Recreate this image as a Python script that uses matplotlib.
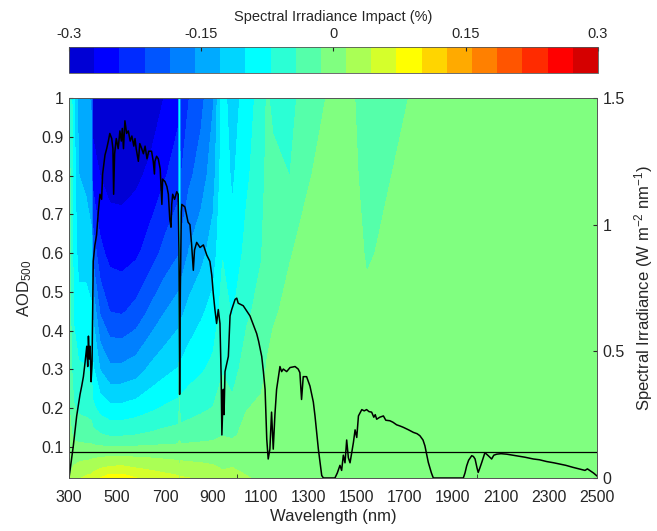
import numpy as np
import matplotlib
matplotlib.use("Agg")
import matplotlib.pyplot as plt
from matplotlib.colors import ListedColormap

plt.rcParams['font.family'] = ['Liberation Sans', 'DejaVu Sans']
plt.rcParams['mathtext.fontset'] = 'custom'
plt.rcParams['mathtext.rm'] = 'Liberation Sans'
plt.rcParams['mathtext.it'] = 'Liberation Sans'

# AOD levels (rows) and wavelengths (columns) of the impact table
aod_rows = [0.02, 0.05, 0.088, 0.13, 0.2, 0.3, 0.45, 0.6, 0.8, 1.0]
impact_wl = [300, 310, 320, 340, 370, 393, 400, 430, 470, 520, 580, 640, 700,
             755, 760, 765, 800, 850, 900, 940, 980, 1040, 1100, 1125, 1150,
             1220, 1300, 1380, 1490, 1540, 1640, 1740, 1850, 2500]
# spectral irradiance impact (%), one list per wavelength, bottom -> top AOD
impact_cols = [
    [0.010, 0.005, 0, -0.005, -0.012, -0.018, -0.022, -0.026, -0.030, -0.032],
    [0.020, 0.010, 0, -0.012, -0.025, -0.040, -0.050, -0.055, -0.060, -0.065],
    [0.030, 0.015, 0, -0.020, -0.040, -0.060, -0.075, -0.082, -0.088, -0.092],
    [0.040, 0.020, 0, -0.025, -0.048, -0.068, -0.090, -0.110, -0.128, -0.140],
    [0.048, 0.024, 0, -0.028, -0.050, -0.070, -0.090, -0.110, -0.135, -0.150],
    [0.052, 0.026, 0, -0.030, -0.054, -0.074, -0.096, -0.120, -0.145, -0.160],
    [0.058, 0.029, 0, -0.034, -0.065, -0.095, -0.135, -0.195, -0.255, -0.290],
    [0.072, 0.036, 0, -0.040, -0.082, -0.130, -0.190, -0.235, -0.272, -0.300],
    [0.085, 0.043, 0, -0.045, -0.093, -0.150, -0.215, -0.252, -0.282, -0.310],
    [0.085, 0.045, 0, -0.045, -0.093, -0.150, -0.218, -0.255, -0.282, -0.310],
    [0.072, 0.038, 0, -0.042, -0.087, -0.142, -0.205, -0.248, -0.277, -0.303],
    [0.062, 0.033, 0, -0.038, -0.077, -0.122, -0.180, -0.228, -0.265, -0.288],
    [0.054, 0.028, 0, -0.033, -0.068, -0.108, -0.158, -0.205, -0.245, -0.270],
    [0.048, 0.024, 0, -0.030, -0.062, -0.098, -0.142, -0.188, -0.228, -0.252],
    [0.030, 0.015, 0, -0.020, -0.038, -0.055, -0.070, -0.080, -0.088, -0.095],
    [0.046, 0.023, 0, -0.029, -0.060, -0.094, -0.136, -0.178, -0.216, -0.240],
    [0.043, 0.021, 0, -0.027, -0.054, -0.084, -0.120, -0.155, -0.192, -0.215],
    [0.038, 0.019, 0, -0.024, -0.048, -0.075, -0.105, -0.138, -0.172, -0.195],
    [0.032, 0.016, 0, -0.021, -0.042, -0.064, -0.090, -0.115, -0.142, -0.160],
    [0.022, 0.011, 0, -0.015, -0.030, -0.045, -0.060, -0.073, -0.082, -0.088],
    [0.027, 0.013, 0, -0.018, -0.036, -0.055, -0.074, -0.090, -0.105, -0.116],
    [0.016, 0.008, 0, -0.007, -0.015, -0.029, -0.048, -0.063, -0.076, -0.085],
    [0.010, 0.005, 0, -0.005, -0.011, -0.020, -0.033, -0.045, -0.055, -0.060],
    [0.008, 0.004, 0, -0.004, -0.008, -0.013, -0.020, -0.028, -0.035, -0.040],
    [0.006, 0.003, 0, -0.003, -0.006, -0.010, -0.016, -0.025, -0.037, -0.048],
    [0.004, 0.002, 0, -0.002, -0.004, -0.007, -0.011, -0.015, -0.043, -0.050],
    [0.003, 0.001, 0, -0.001, -0.003, -0.005, -0.008, -0.010, -0.015, -0.030],
    [0.002, 0.001, 0, -0.001, -0.002, -0.004, -0.006, -0.008, -0.010, -0.012],
    [0.002, 0.001, 0, -0.001, -0.002, -0.004, -0.006, -0.008, -0.011, -0.014],
    [0.002, 0.001, 0, -0.002, -0.004, -0.007, -0.011, -0.016, -0.022, -0.028],
    [0.002, 0.001, 0, -0.001, -0.003, -0.005, -0.008, -0.011, -0.0145, -0.018],
    [0.001, 0.000, 0, -0.001, -0.002, -0.004, -0.006, -0.008, -0.010, -0.013],
    [0.001, 0.000, 0, -0.001, -0.002, -0.003, -0.005, -0.006, -0.008, -0.010],
    [0.001, 0.000, 0, -0.001, -0.001, -0.002, -0.003, -0.004, -0.005, -0.006],
]

# solar spectrum (W m-2 nm-1)
spec_wl = [300, 318, 332, 346, 353, 360, 367, 374, 378, 381, 385, 388, 392, 396,
           401, 408, 415, 422, 429, 436, 440, 450, 457, 464, 470, 478, 483, 486,
           490, 497, 505, 512, 518, 522, 527, 533, 540, 547, 555, 562, 570, 575,
           580, 589, 595, 603, 610, 617, 625, 632, 644, 651, 656, 658, 665, 672,
           680, 687, 690, 700, 708, 714, 720, 725, 728, 732, 740, 749, 755, 758,
           761, 764, 768, 770, 783, 796, 804, 811, 818, 823, 832, 846, 860, 874,
           887, 895, 901, 908, 915, 922, 929, 934, 937, 941, 943, 946, 950, 957,
           964, 971, 978, 992, 999, 1005, 1026, 1054, 1082, 1090, 1103, 1110,
           1117, 1124, 1130, 1137, 1144, 1151, 1158, 1165, 1179, 1186, 1193,
           1207, 1221, 1242, 1255, 1262, 1269, 1276, 1290, 1304, 1318, 1325,
           1339, 1353, 1360, 1408, 1418, 1429, 1436, 1443, 1450, 1457, 1464,
           1471, 1478, 1485, 1492, 1499, 1506, 1520, 1530, 1540, 1550, 1561,
           1570, 1576, 1582, 1595, 1610, 1620, 1637, 1650, 1665, 1680, 1693,
           1715, 1735, 1750, 1762, 1775, 1783, 1797, 1810, 1818, 1943, 1950,
           1957, 1965, 1978, 1985, 1992, 2000, 2005, 2012, 2020, 2033, 2047,
           2061, 2070, 2082, 2100, 2124, 2150, 2180, 2200, 2235, 2260, 2290,
           2320, 2346, 2370, 2400, 2429, 2450, 2460, 2471, 2485, 2500]
spec_val = [0.0, 0.127, 0.245, 0.33, 0.363, 0.40, 0.457, 0.52, 0.44, 0.56, 0.47,
            0.52, 0.38, 0.45, 0.856, 0.92, 0.96, 1.05, 1.12, 1.10, 1.20, 1.275,
            1.30, 1.33, 1.36, 1.34, 1.30, 1.12, 1.28, 1.34, 1.30, 1.37, 1.33,
            1.38, 1.30, 1.41, 1.36, 1.37, 1.33, 1.35, 1.31, 1.34, 1.30, 1.25,
            1.32, 1.30, 1.28, 1.31, 1.26, 1.29, 1.29, 1.25, 1.20, 1.25, 1.27,
            1.26, 1.22, 1.08, 1.18, 1.17, 1.15, 1.12, 1.02, 0.99, 1.08, 1.12,
            1.10, 1.13, 1.12, 0.90, 0.33, 0.75, 1.05, 1.08, 1.07, 1.01, 1.00,
            0.92, 0.82, 0.90, 0.93, 0.91, 0.92, 0.88, 0.855, 0.80, 0.73, 0.665,
            0.61, 0.665, 0.61, 0.40, 0.17, 0.30, 0.35, 0.25, 0.42, 0.45, 0.48,
            0.64, 0.665, 0.705, 0.71, 0.69, 0.68, 0.64, 0.57, 0.54, 0.48, 0.42,
            0.35, 0.153, 0.075, 0.114, 0.26, 0.114, 0.25, 0.35, 0.44, 0.42,
            0.43, 0.42, 0.436, 0.44, 0.43, 0.416, 0.31, 0.40, 0.40, 0.363, 0.30,
            0.245, 0.114, 0.01, 0.0, 0.0, 0.02, 0.05, 0.03, 0.09, 0.06, 0.15,
            0.08, 0.06, 0.10, 0.14, 0.19, 0.16, 0.245, 0.27, 0.265, 0.27, 0.262,
            0.26, 0.24, 0.25, 0.232, 0.24, 0.245, 0.228, 0.226, 0.22, 0.21,
            0.205, 0.20, 0.19, 0.18, 0.175, 0.167, 0.15, 0.127, 0.062, 0.02,
            0.0, 0.0, 0.02, 0.048, 0.07, 0.088, 0.085, 0.075, 0.04, 0.022, 0.04,
            0.062, 0.10, 0.088, 0.075, 0.09, 0.094, 0.096, 0.094, 0.09, 0.085,
            0.082, 0.075, 0.072, 0.065, 0.06, 0.055, 0.05, 0.042, 0.035, 0.03,
            0.036, 0.029, 0.02, 0.008]

ref_aod = 0.088
cbar_ticks = [-0.3, -0.15, 0, 0.15, 0.3]
xtick_labels = list(range(300, 2501, 200))

# MATLAB style jet(21)
jet21 = [(0, 0, 5/6), (0, 0, 1), (0, 1/6, 1), (0, 2/6, 1), (0, .5, 1),
         (0, 4/6, 1), (0, 5/6, 1), (0, 1, 1), (1/6, 1, 5/6), (2/6, 1, 4/6),
         (.5, 1, .5), (4/6, 1, 2/6), (5/6, 1, 1/6), (1, 1, 0), (1, 5/6, 0),
         (1, 4/6, 0), (1, .5, 0), (1, 2/6, 0), (1, 1/6, 0), (1, 0, 0),
         (5/6, 0, 0)]
cmap = ListedColormap(jet21)
levels = np.linspace(-0.3, 0.3, 22)

Z = np.array(impact_cols).T
WL, AOD = np.meshgrid(impact_wl, aod_rows)

txt = '#262626'
fig = plt.figure(figsize=(6.57, 5.31), dpi=100)
ax = fig.add_axes([69/657, 1 - 478/531, 528/657, 380/531])
cs = ax.contourf(WL, AOD, np.clip(Z, -0.2999, 0.2999), levels=levels, cmap=cmap)
ax.axhline(ref_aod, color='black', lw=0.9)
ax.set_xlim(300, 2500)
ax.set_ylim(0.02, 1.0)
ax.set_xticks(xtick_labels)
ax.set_xticks([500, 1000, 1500, 2000], minor=True)
ax.tick_params(axis='x', which='major', length=0, labelsize=11.5, colors=txt, pad=8.5)
ax.tick_params(axis='x', which='minor', direction='in', length=3, color=txt)
ax.set_yticks(np.round(np.arange(0.1, 1.01, 0.1), 1))
ax.set_yticklabels(['0.1', '0.2', '0.3', '0.4', '0.5', '0.6', '0.7', '0.8', '0.9', '1'])
ax.tick_params(axis='y', direction='in', length=3, labelsize=11.5, colors=txt, pad=4)
ax.set_xlabel('Wavelength (nm)', fontsize=12, color=txt, labelpad=3)
ax.set_ylabel('AOD$_{500}$', fontsize=12, color=txt, labelpad=5)
for s in ax.spines.values():
    s.set_color('#555555')
    s.set_linewidth(0.6)

ax2 = ax.twinx()
ax2.plot(spec_wl, spec_val, color='black', lw=1.1)
ax2.set_ylim(0, 1.5)
ax2.set_yticks([0, 0.5, 1, 1.5])
ax2.set_yticklabels(['0', '0.5', '1', '1.5'])
ax2.tick_params(axis='y', direction='in', length=3, labelsize=11.5, colors=txt, pad=4)
ax2.set_ylabel('Spectral Irradiance (W m$^{-2}$ nm$^{-1}$)', fontsize=12,
               color=txt, labelpad=5)
for s in ax2.spines.values():
    s.set_color('#555555')
    s.set_linewidth(0.6)

cax = fig.add_axes([69/657, 1 - 73/531, 529/657, 26/531])
cb = fig.colorbar(cs, cax=cax, orientation='horizontal')
cb.set_ticks(cbar_ticks)
cb.set_ticklabels(['-0.3', '-0.15', '0', '0.15', '0.3'])
cax.xaxis.set_ticks_position('top')
cax.xaxis.set_label_position('top')
cax.tick_params(direction='in', length=3, labelsize=10.5, colors=txt, pad=4)
cb.set_label('Spectral Irradiance Impact (%)', fontsize=10.5, color=txt, labelpad=5)
cb.outline.set_edgecolor('#555555')
cb.outline.set_linewidth(0.6)

fig.savefig('out.png', dpi=100)
